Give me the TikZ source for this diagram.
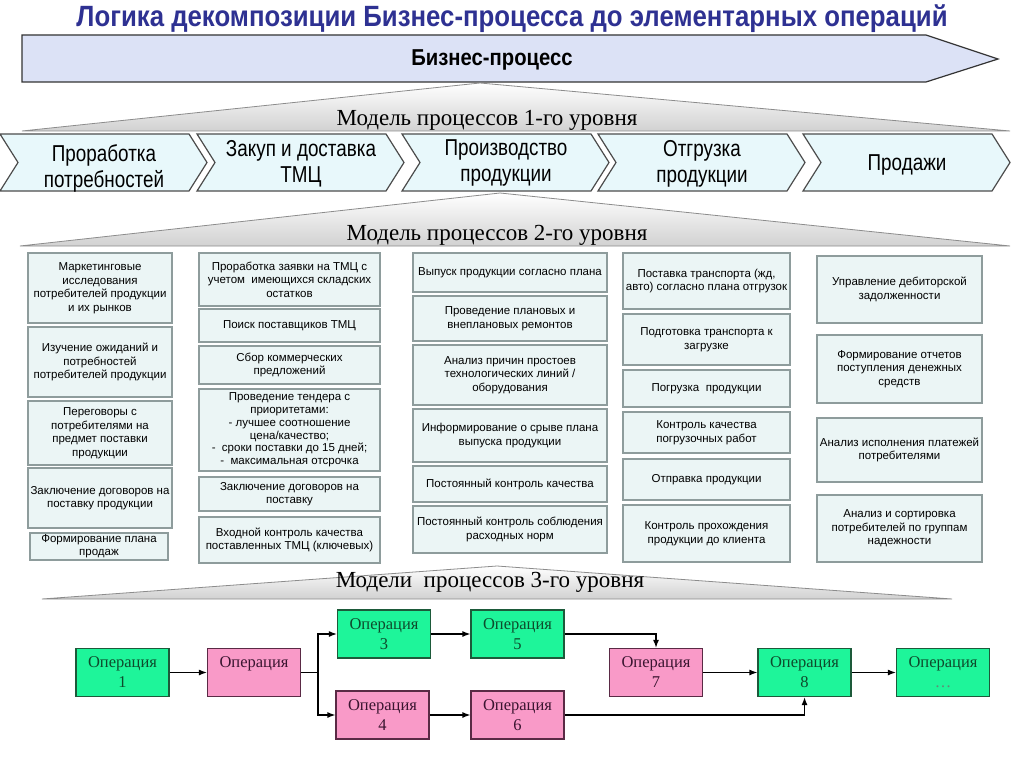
\documentclass[tikz,border=0pt]{standalone}
\usepackage{fontspec}
\setmainfont{Liberation Serif}
\setsansfont{Liberation Sans}
\newfontfamily\narrowfont[FakeStretch=0.82]{Liberation Sans}
\newfontfamily\titlefont[FakeStretch=0.88]{Liberation Sans}
\usetikzlibrary{positioning, calc, arrows.meta}

\definecolor{titleblue}{HTML}{2E3192}
\definecolor{bannerfill}{HTML}{DCE2F6}
\definecolor{chevfill}{HTML}{E8F8FB}
\definecolor{boxfill}{HTML}{EBF5F5}
\definecolor{boxline}{HTML}{8E9C9C}
\definecolor{opgreen}{HTML}{1EF59A}
\definecolor{opgreenline}{HTML}{1D5A3A}
\definecolor{opgreentext}{HTML}{0E4A2C}
\definecolor{oppink}{HTML}{F99AC8}
\definecolor{oppinkline}{HTML}{5A2A45}
\definecolor{oppinktext}{HTML}{3A1530}

% level-2 box from its two corners: [style] {name}{x1}{y1}{x2}{y2}{text}
\newcommand{\lvlbox}[7][]{%
  \node[block, #1, minimum width={(#5-#3)*1pt}, minimum height={(#6-#4)*1pt}]
    (#2) at ({(#3+#5)/2},{(#4+#6)/2}) {#7};}

\begin{document}
\begin{tikzpicture}[
    x=1pt, y=-1pt,
    block/.style={draw=boxline, line width=2pt, fill=boxfill, inner sep=0pt,
                  align=center, font=\sffamily\fontsize{11.5}{13.5}\selectfont},
    tight/.style={font=\sffamily\fontsize{11.5}{12.8}\selectfont},
    chev/.style={draw=black!70, line width=1.2pt, fill=chevfill},
    chevtext/.style={align=center, font=\narrowfont\fontsize{23}{26}\selectfont},
    level/.style={draw=black!45, line width=0.8pt, top color=white, bottom color=black!18},
    leveltext/.style={font=\fontsize{23}{25}\selectfont},
    op/.style={draw, line width=1.2pt, minimum width=93pt, minimum height=48pt,
               inner sep=0pt, align=center, font=\fontsize{16.5}{20}\selectfont},
    opg/.style={op, fill=opgreen, draw=opgreenline, text=opgreentext},
    opp/.style={op, fill=oppink, draw=oppinkline, text=oppinktext},
    >={Latex[length=8pt, width=6pt]},
]
\useasboundingbox[fill=white] (0,0) rectangle (1024,767);

% =================================================================
%  TITLE AND BUSINESS PROCESS BANNER
% =================================================================
\node[text=titleblue, font=\titlefont\bfseries\fontsize{29.3}{32}\selectfont]
    (title) at (512,19) {Логика декомпозиции Бизнес-процесса до элементарных операций};

\draw[fill=bannerfill, draw=black!80, line width=1.2pt]
    (22,35) -- (926,35) -- (998,59) -- (926,82) -- (22,82) -- cycle;
\node[font=\titlefont\bfseries\fontsize{23}{26}\selectfont] (bp) at (492,60) {Бизнес-процесс};

% =================================================================
%  LEVEL 1
% =================================================================
\shade[level] (480,83) -- (1010,131) -- (22,131) -- cycle;
\node[leveltext] (lev1) at (487,120) {Модель процессов 1-го уровня};

\foreach \L/\nm/\ty/\txt in {0/c1/168/{Проработка\\потребностей},
                            197/c2/164/{Закуп и доставка\\ТМЦ},
                            402/c3/163/{Производство\\продукции},
                            598/c4/164/{Отгрузка\\продукции},
                            803/c5/165/{Продажи}} {
    \draw[chev] (\L,134) -- (\L+189,134) -- (\L+207,162.5) -- (\L+189,191)
        -- (\L,191) -- (\L+18,162.5) -- cycle;
    \node[chevtext] (\nm) at (\L+104,\ty) {\txt};
}

% =================================================================
%  LEVEL 2
% =================================================================
\shade[level] (500,193) -- (1010,246) -- (20,246) -- cycle;
\node[leveltext] (lev2) at (497,235) {Модель процессов 2-го уровня};

% column 1
\lvlbox{m1}{28}{253}{172}{323}{Маркетинговые\\исследования\\потребителей продукции\\и их рынков}
\lvlbox{m2}{28}{327}{172}{397}{Изучение ожиданий и\\потребностей\\потребителей продукции}
\lvlbox{m3}{28}{401}{172}{465}{Переговоры с\\потребителями на\\предмет поставки\\продукции}
\lvlbox{m4}{28}{468}{172}{528}{Заключение договоров на\\поставку продукции}
\lvlbox[tight]{m5}{30}{533}{168}{560}{Формирование плана\\продаж}

% column 2
\lvlbox{z1}{199}{253}{380}{306}{Проработка заявки на ТМЦ с\\учетом \ имеющихся складских\\остатков}
\lvlbox{z2}{199}{309}{380}{342}{Поиск поставщиков ТМЦ}
\lvlbox{z3}{199}{346}{380}{384}{Сбор коммерческих\\предложений}
\lvlbox[tight]{z4}{199}{389}{380}{471}{Проведение тендера с\\приоритетами:\\- лучшее соотношение\\цена/качество;\\- \ сроки поставки до 15 дней;\\- \ максимальная отсрочка}
\lvlbox{z5}{199}{477}{380}{511}{Заключение договоров на\\поставку}
\lvlbox{z6}{199}{517}{380}{563}{Входной контроль качества\\поставленных ТМЦ (ключевых)}

% column 3
\lvlbox{p1}{413}{253}{607}{292}{Выпуск продукции согласно плана}
\lvlbox{p2}{413}{296}{607}{341}{Проведение плановых и\\внеплановых ремонтов}
\lvlbox{p3}{413}{345}{607}{405}{Анализ причин простоев\\технологических линий /\\оборудования}
\lvlbox{p4}{413}{409}{607}{462}{Информирование о срыве плана\\выпуска продукции}
\lvlbox{p5}{413}{466}{607}{502}{Постоянный контроль качества}
\lvlbox{p6}{413}{506}{607}{553}{Постоянный контроль соблюдения\\расходных норм}

% column 4
\lvlbox{o1}{623}{253}{790}{309}{Поставка транспорта (жд,\\авто) согласно плана отгрузок}
\lvlbox{o2}{623}{314}{790}{365}{Подготовка транспорта к\\загрузке}
\lvlbox{o3}{623}{370}{790}{407}{Погрузка \ продукции}
\lvlbox{o4}{623}{412}{790}{453}{Контроль качества\\погрузочных работ}
\lvlbox{o5}{623}{459}{790}{500}{Отправка продукции}
\lvlbox{o6}{623}{505}{790}{562}{Контроль прохождения\\продукции до клиента}

% column 5
\lvlbox{s1}{817}{256}{982}{323}{Управление дебиторской\\задолженности}
\lvlbox{s2}{817}{335}{982}{403}{Формирование отчетов\\поступления денежных\\средств}
\lvlbox{s3}{817}{418}{982}{482}{Анализ исполнения платежей\\потребителями}
\lvlbox{s4}{817}{495}{982}{562}{Анализ и сортировка\\потребителей по группам\\надежности}

% =================================================================
%  LEVEL 3
% =================================================================
\shade[level] (497,566) -- (952,599) -- (42,599) -- cycle;
\node[leveltext] (lev3) at (490,582) {Модели \ процессов 3-го уровня};

\node[opg] (op1) at (122.5,672.5) {Операция\\1};
\node[opp] (op2) at (254,672.5)   {Операция\\\phantom{2}};
\node[opg] (op3) at (384,634)     {Операция\\3};
\node[opp] (op4) at (382.5,715)   {Операция\\4};
\node[opg] (op5) at (517.5,634)   {Операция\\5};
\node[opp] (op6) at (517.5,715)   {Операция\\6};
\node[opp] (op7) at (656,672.5)   {Операция\\7};
\node[opg] (op8) at (804.5,672.5) {Операция\\8};
\node[opg] (opn) at (943,672.5)   {Операция\\{\color{opgreentext!65}\dots}};

\coordinate (split) at (318,672.5);

\draw[->, line width=1.3pt] (op1) -- (op2);
\draw[line width=1.3pt]     (op2.east) -- (split);
\draw[->, line width=1.3pt] (split) |- (op3.west);
\draw[->, line width=1.3pt] (split) |- (op4.west);
\draw[->, line width=1.3pt] (op3) -- (op5);
\draw[->, line width=1.3pt] (op4) -- (op6);
\draw[->, line width=1.3pt] (op5.east) -| (op7.north);
\draw[->, line width=1.3pt] (op6.east) -| (op8.south);
\draw[->, line width=1.3pt] (op7) -- (op8);
\draw[->, line width=1.3pt] (op8) -- (opn);

\end{tikzpicture}
\end{document}
